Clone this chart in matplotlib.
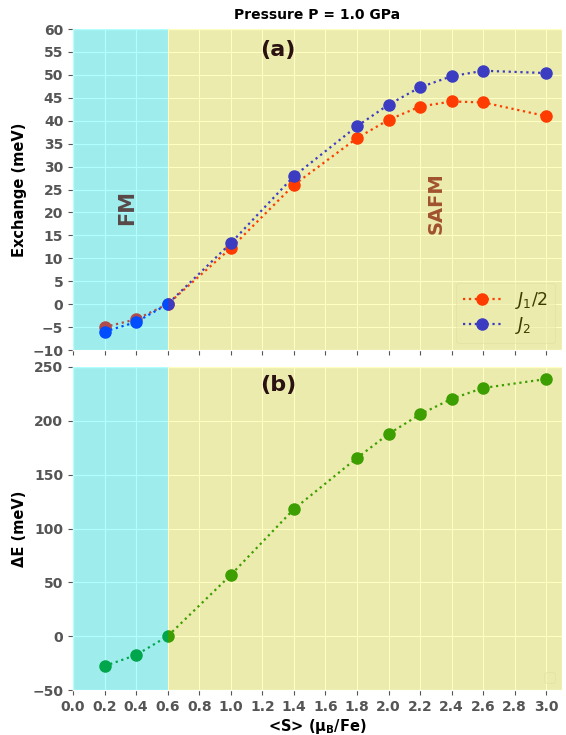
import numpy as np
import matplotlib
matplotlib.use('Agg')
import matplotlib.pyplot as plt

# Data
S = [0.2, 0.4, 0.6, 1.0, 1.4, 1.8, 2.0, 2.2, 2.4, 2.6, 3.0]
J1_half = [-5.0, -3.3, 0.0, 12.2, 26.0, 36.2, 40.2, 43.1, 44.2, 44.0, 41.0]
J2 = [-6.0, -3.9, 0.0, 13.3, 27.9, 38.8, 43.5, 47.3, 49.7, 50.9, 50.4]
dE = [-27.7, -17.5, 0.0, 56.8, 118.0, 165.5, 187.8, 206.0, 220.4, 230.5, 238.8]
xticks = np.round(np.arange(0.0, 3.01, 0.2), 1)

plt.style.use('ggplot')

fig = plt.figure(figsize=(5.66, 7.35), dpi=100)
ax1 = fig.add_axes([0.129, 0.5238, 0.864, 0.4367])
ax2 = fig.add_axes([0.129, 0.0612, 0.864, 0.4395])

# panel (a)
ax1.plot(S, J1_half, ':o', color='r', ms=8, lw=1.6, label='$J_1/2$')
ax1.plot(S, J2, ':o', color='b', ms=8, lw=1.6, label='$J_2$')
ax1.axvspan(0.0, 0.6, color='cyan', alpha=0.3, lw=0, zorder=6)
ax1.axvspan(0.6, 3.1, color='yellow', alpha=0.24, lw=0, zorder=6)
ax1.set_xlim(0, 3.1)
ax1.set_ylim(-10, 60)
ax1.set_yticks(np.arange(-10, 61, 5))
ax1.set_xticks(xticks)
ax1.set_xticklabels([])
ax1.set_ylabel('Exchange (meV)', color='black', fontsize=10.5, fontweight='bold')
ax1.set_title('Pressure P = 1.0 GPa', fontsize=10, fontweight='bold', color='black', pad=7)
ax1.text(1.3, 55.5, '(a)', fontsize=16, fontweight='bold', color='#2b1111', ha='center', va='center', zorder=7)
ax1.text(0.34, 21, 'FM', fontsize=15, fontweight='bold', color='#5a4848', rotation=90, ha='center', va='center', zorder=7)
ax1.text(2.3, 22, 'SAFM', fontsize=14, fontweight='bold', color='sienna', rotation=90, ha='center', va='center', zorder=7)
leg = ax1.legend(loc='lower right', fontsize=12.5, framealpha=0.5, facecolor='#e5e5e5',
                 labelspacing=0.25, borderpad=0.4, handlelength=2.2, borderaxespad=0.4)
for t in leg.get_texts():
    t.set_color('black')

# panel (b)
ax2.plot(S, dE, ':o', color='g', ms=8, lw=1.6)
ax2.axvspan(0.0, 0.6, color='cyan', alpha=0.3, lw=0, zorder=6)
ax2.axvspan(0.6, 3.1, color='yellow', alpha=0.24, lw=0, zorder=6)
ax2.set_xlim(0, 3.1)
ax2.set_ylim(-50, 250)
ax2.set_xticks(xticks)
ax2.set_ylabel('ΔE (meV)', color='black', fontsize=10.5, fontweight='bold')
ax2.set_xlabel('<S> ($\\mathbf{\\mu_B}$/Fe)', color='black', fontsize=10.5, fontweight='bold', labelpad=2)
ax2.text(1.3, 233, '(b)', fontsize=16, fontweight='bold', color='#2b1111', ha='center', va='center', zorder=7)
ax2.legend(loc='lower right', framealpha=0.5, facecolor='#e5e5e5')

for ax in (ax1, ax2):
    ax.tick_params(labelsize=10)
    for lab in ax.get_xticklabels() + ax.get_yticklabels():
        lab.set_fontweight('bold')

plt.savefig('out.png', dpi=100)
